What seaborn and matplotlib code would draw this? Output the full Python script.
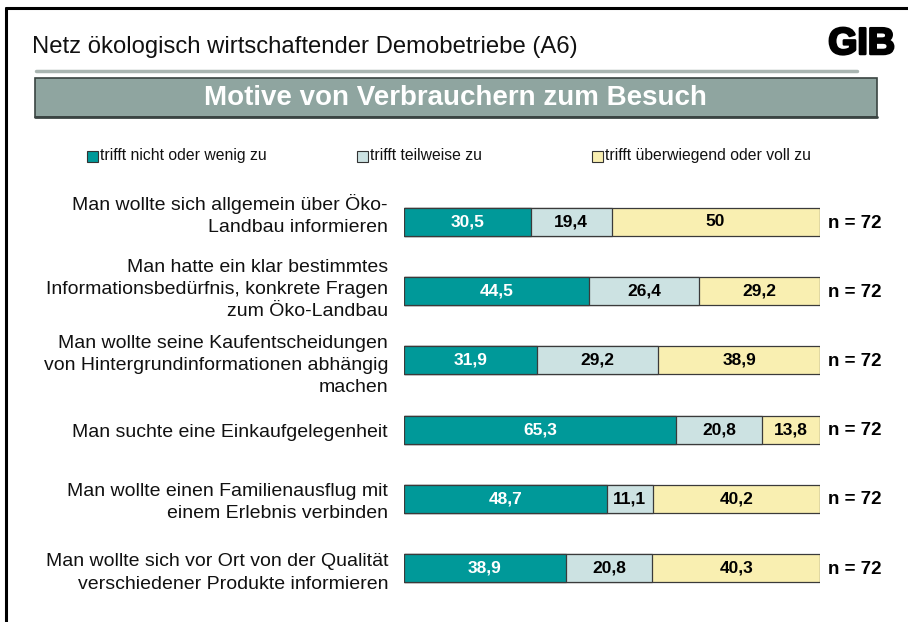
import matplotlib
matplotlib.use("Agg")
import matplotlib.pyplot as plt
from matplotlib.patches import Rectangle
from matplotlib.lines import Line2D
import matplotlib.patheffects as pe
import pandas as pd
import seaborn as sns

# --- data -------------------------------------------------------------
categories = [
    "Man wollte sich allgemein über Öko-\nLandbau informieren",
    "Man hatte ein klar bestimmtes\nInformationsbedürfnis, konkrete Fragen\nzum Öko-Landbau",
    "Man wollte seine Kaufentscheidungen\nvon Hintergrundinformationen abhängig\nmachen",
    "Man suchte eine Einkaufgelegenheit",
    "Man wollte einen Familienausflug mit\neinem Erlebnis verbinden",
    "Man wollte sich vor Ort von der Qualität\nverschiedener Produkte informieren",
]
nicht_wenig = [30.5, 44.5, 31.9, 65.3, 48.7, 38.9]
teilweise = [19.4, 26.4, 29.2, 20.8, 11.1, 20.8]
ueberwiegend_voll = [50, 29.2, 38.9, 13.8, 40.2, 40.3]
n_values = [72, 72, 72, 72, 72, 72]
series_names = ["trifft nicht oder wenig zu", "trifft teilweise zu",
                "trifft überwiegend oder voll zu"]
series_colors = ["#009999", "#CCE2E2", "#F9EFB1"]
value_colors = ["white", "black", "black"]

subtitle = "Netz ökologisch wirtschaftender Demobetriebe (A6)"
title = "Motive von Verbrauchern zum Besuch"
logo = "GIB"

# --- style ------------------------------------------------------------
sns.set_theme(style="white")
plt.rcParams["font.family"] = ["Liberation Sans", "DejaVu Sans"]

W, H = 908, 622
fig = plt.figure(figsize=(W / 100, H / 100), dpi=100)
fig.patch.set_facecolor("white")


def fx(px):
    return px / W


def fy(py):
    return 1 - py / H


# frame lines along the top and left
fig.add_artist(Line2D([fx(6), fx(6)], [fy(8), 0], color="black", lw=2.2,
                      transform=fig.transFigure))
fig.add_artist(Line2D([fx(6), 1], [fy(8), fy(8)], color="black", lw=2.2,
                      transform=fig.transFigure))

# header
fig.text(fx(32), fy(47), subtitle, fontsize=17.2, va="center", ha="left",
         color="#111111")
fig.text(fx(895), fy(44), logo, fontsize=27, fontweight="heavy", va="center",
         ha="right", color="black",
         path_effects=[pe.withStroke(linewidth=1.8, foreground="black")])
fig.add_artist(Line2D([fx(36), fx(857)], [fy(70.5), fy(70.5)], color="#A9B5B1",
                      lw=2.5, transform=fig.transFigure))
fig.add_artist(Rectangle((fx(35), fy(117)), fx(877) - fx(35), fy(78) - fy(117),
                         facecolor="#8FA5A0", edgecolor="#3A4442", lw=1.2,
                         transform=fig.transFigure))
fig.add_artist(Line2D([fx(35), fx(877)], [fy(117), fy(117)], color="#3A4442",
                      lw=2, transform=fig.transFigure))
fig.text(fx(455), fy(98), title, fontsize=20, fontweight="bold",
         color="white", va="center", ha="center")

# legend: square swatch followed by its label
legend_x = [87, 357, 592]
for x0, name, color in zip(legend_x, series_names, series_colors):
    fig.add_artist(Rectangle((fx(x0), fy(162)), fx(11), 11 / H,
                             facecolor=color, edgecolor="#333333", lw=0.8,
                             transform=fig.transFigure))
    fig.text(fx(x0 + 13), fy(156), name, fontsize=11.3, va="center",
             ha="left", color="#111111")

# --- stacked bars -----------------------------------------------------
df = pd.DataFrame({
    "Motiv": categories,
    "nicht": nicht_wenig,
    "teil": teilweise,
    "voll": ueberwiegend_voll,
})
df["cum1"] = df["nicht"]
df["cum2"] = df["nicht"] + df["teil"]
df["cum3"] = df["cum2"] + df["voll"]

bar_top, bar_bottom = 187.4, 602.6
ax = fig.add_axes([fx(404), fy(bar_bottom), fx(820) - fx(404),
                   (bar_bottom - bar_top) / H])

for col, color in zip(["cum3", "cum2", "cum1"], series_colors[::-1]):
    sns.barplot(data=df, x=col, y="Motiv", orient="h", color=color,
                width=0.405, edgecolor="#3A3A3A", linewidth=0.9,
                saturation=1, ax=ax)

ax.set_xlim(0, 100)
ax.set_xlabel("")
ax.set_ylabel("")
ax.set_xticks([])
ax.set_yticklabels([])
ax.tick_params(axis="y", length=0)
sns.despine(ax=ax, left=True, bottom=True)

# category texts to the left of the bars (vertical nudges in pixels)
label_nudge = [7, 2, -5, -3, -4, -5]
for i, (cat, dy) in enumerate(zip(df["Motiv"], label_nudge)):
    ax.annotate(cat, xy=(0, i), xycoords=("axes fraction", "data"),
                xytext=(-16, dy), textcoords="offset pixels", ha="right",
                va="center", multialignment="right", fontsize=14,
                linespacing=1.4, color="#111111", annotation_clip=False)

# segment value labels and sample size
for i, row in df.iterrows():
    starts = [0, row["cum1"], row["cum2"]]
    vals = [row["nicht"], row["teil"], row["voll"]]
    for s, v, tc in zip(starts, vals, value_colors):
        txt = f"{v:g}".replace(".", ",")
        ax.text(s + v / 2, i, txt, ha="center", va="center", fontsize=12.5,
                fontweight="bold", color=tc)
    ax.annotate(f"n = {n_values[i]}", xy=(1, i),
                xycoords=("axes fraction", "data"), xytext=(8, -1),
                textcoords="offset pixels", ha="left", va="center",
                fontsize=13.5, fontweight="bold", color="black")

fig.savefig("out.png", dpi=100, facecolor="white")
